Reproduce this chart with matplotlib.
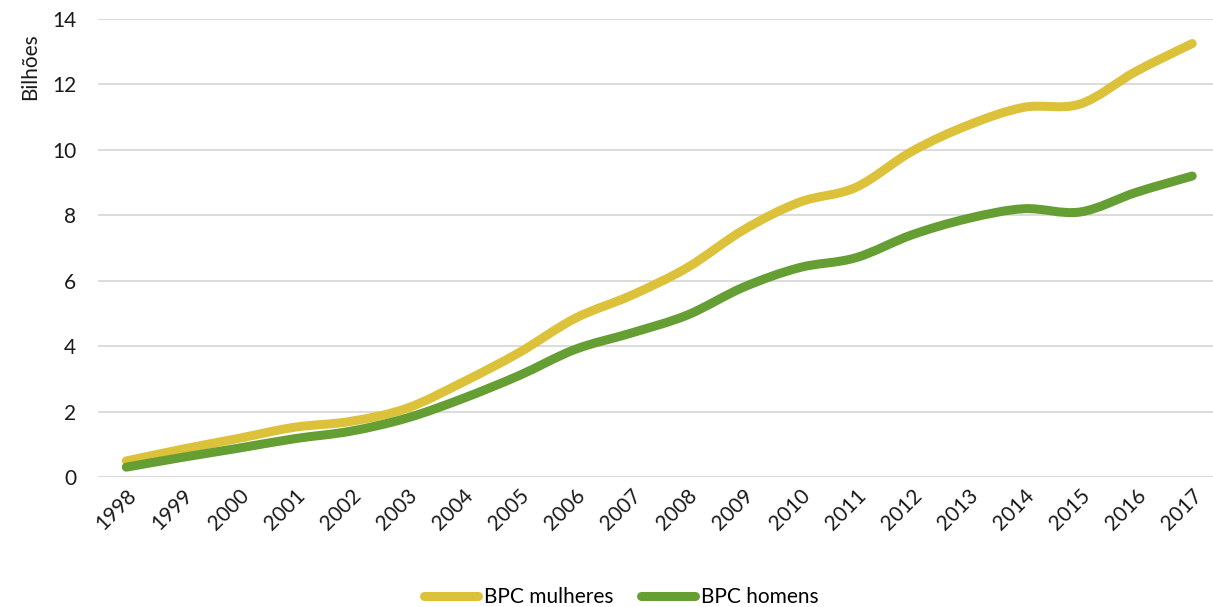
import matplotlib.pyplot as plt
import numpy as np
from matplotlib.path import Path
from matplotlib.patches import PathPatch
from matplotlib.lines import Line2D

plt.rcParams['font.family'] = ['Lato', 'DejaVu Sans']

# BPC spending by sex, billions
anos = [str(a) for a in range(1998, 2018)]
mulheres = [0.49, 0.85, 1.18, 1.52, 1.7, 2.1, 2.9, 3.8, 4.85, 5.55,
            6.4, 7.55, 8.4, 8.85, 9.95, 10.75, 11.3, 11.4, 12.4, 13.25]
homens = [0.3, 0.6, 0.88, 1.17, 1.4, 1.8, 2.4, 3.1, 3.9, 4.4,
          4.95, 5.8, 6.4, 6.7, 7.4, 7.9, 8.2, 8.1, 8.7, 9.2]

cor_mulheres = '#DCC23A'
cor_homens = '#659E32'
lw = 6.5
fs = 15


def smooth_path(x, y):
    # Catmull-Rom style bezier, like spreadsheet "smoothed line"
    x = np.asarray(x, float)
    y = np.asarray(y, float)
    n = len(x)
    verts = [(x[0], y[0])]
    codes = [Path.MOVETO]
    for i in range(n - 1):
        i0 = max(i - 1, 0)
        i3 = min(i + 2, n - 1)
        c1 = (x[i] + (x[i + 1] - x[i0]) / 6, y[i] + (y[i + 1] - y[i0]) / 6)
        c2 = (x[i + 1] - (x[i3] - x[i]) / 6, y[i + 1] - (y[i3] - y[i]) / 6)
        verts += [c1, c2, (x[i + 1], y[i + 1])]
        codes += [Path.CURVE4] * 3
    return Path(verts, codes)


fig = plt.figure(figsize=(12.13, 6.07), dpi=100)
ax = fig.add_axes([0.081, 0.2142, 0.925, 0.7545])

idx = np.arange(len(anos))
for serie, cor in [(mulheres, cor_mulheres), (homens, cor_homens)]:
    patch = PathPatch(smooth_path(idx, serie), fill=False, edgecolor=cor,
                      lw=lw, capstyle='round', joinstyle='round', zorder=3)
    ax.add_patch(patch)

ax.set_xlim(-0.5, len(anos) - 0.5)
ax.set_ylim(0, 14)
ax.set_yticks(range(0, 15, 2))
ax.set_xticks(idx)
ax.set_xticklabels(anos, rotation=45, ha='right', rotation_mode='anchor')
ax.tick_params(axis='both', length=0, labelsize=fs, colors='#1a1a1a')
ax.tick_params(axis='y', pad=16)
ax.tick_params(axis='x', pad=6)
ax.grid(axis='y', color='#d9d9d9', lw=1.3)
ax.set_axisbelow(True)
for s in ax.spines.values():
    s.set_visible(False)

fig.text(0.025, 1 - 67 / 607, 'Bilhões', rotation=90, va='center', ha='center',
         fontsize=fs, color='#1a1a1a')

handles = [Line2D([], [], color=cor_mulheres, lw=lw, solid_capstyle='round'),
           Line2D([], [], color=cor_homens, lw=lw, solid_capstyle='round')]
fig.legend(handles, ['BPC mulheres', 'BPC homens'], loc='center',
           bbox_to_anchor=(0.512, 1 - 597 / 607), ncol=2, frameon=False,
           fontsize=fs, handlelength=2.6, handletextpad=0.3, columnspacing=1.3)

fig.savefig('out.png', dpi=100)
